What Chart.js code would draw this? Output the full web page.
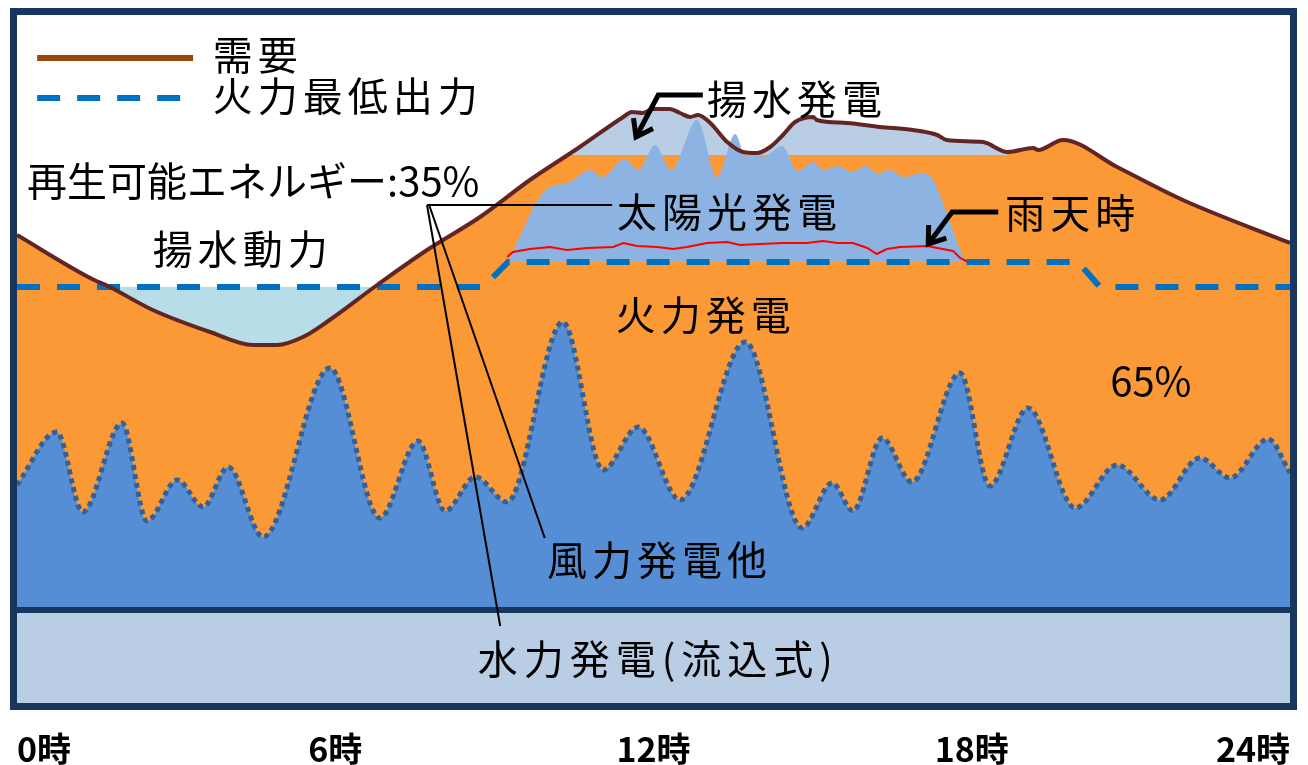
<!DOCTYPE html>
<html lang="ja">
<head>
<meta charset="UTF-8">
<title>電力需給イメージ</title>
<script src="https://cdn.jsdelivr.net/npm/chart.js@4.4.1/dist/chart.umd.min.js"></script>
<style>
    html, body { margin: 0; padding: 0; background: #ffffff; }
    #chartCanvas { display: block; }
</style>
</head>
<body>
<canvas id="chartCanvas" width="1308" height="765"></canvas>
<script>

// --- data (hour of day / output level) ---
var tickLabels = ['0時', '6時', '12時', '18時', '24時'];

var demandHours  = [0, 1.38, 1.75, 2.56, 3.64, 4.45, 4.90, 5.39, 5.84, 6.79, 7.73, 8.73, 9.67, 10.61, 11.43, 11.59, 11.80, 11.99, 12.31, 12.50, 12.69, 12.84, 13.07, 13.39, 13.69, 13.95, 14.20, 14.44, 14.67, 15.01, 15.08, 15.65, 16.27, 16.89, 17.35, 17.53, 18.21, 18.67, 19.16, 19.25, 19.72, 20.74, 21.98, 24];
var demandValues = [468, 425, 416, 393, 371, 358, 358, 366, 381, 418, 453, 486, 523, 556, 586, 591, 590, 594, 594, 590, 586, 588, 580, 561, 551, 550, 556, 568, 581, 586, 583, 580, 576, 573, 568, 563, 561, 551, 555, 553, 563, 536, 503, 460];

var minThermalHours  = [0, 8.79, 9.26, 20.0, 20.42, 24];
var minThermalValues = [416, 416, 441, 441, 416, 416];

var windHours  = [0, 0.75, 1.24, 1.98, 2.45, 3.02, 3.51, 3.98, 4.64, 5.90, 6.84, 7.56, 8.07, 8.64, 9.24, 10.29, 11.05, 11.71, 12.50, 13.73, 14.80, 15.37, 15.76, 16.31, 16.87, 17.78, 18.34, 19.06, 19.95, 20.74, 21.55, 22.30, 22.87, 23.59, 24];
var windValues = [218, 271, 191, 280, 182, 223, 196, 236, 166, 335, 185, 262, 192, 226, 201, 381, 233, 276, 203, 361, 175, 220, 192, 265, 221, 330, 217, 295, 195, 238, 203, 245, 225, 264, 230];

var hydroHours  = [0, 24];
var hydroValues = [93, 93];

var solarHours  = [9.26, 9.52, 9.80, 10.05, 10.39, 10.80, 11.03, 11.46, 11.71, 12.03, 12.33, 12.82, 13.20, 13.54, 13.74, 13.91, 14.06, 14.42, 14.72, 15.01, 15.20, 15.48, 15.74, 16.01, 16.23, 16.44, 16.74, 17.06, 17.25, 17.40, 17.59, 17.78, 17.89];
var solarValues = [441, 471, 501, 516, 520, 533, 526, 544, 533, 558, 533, 583, 526, 569, 546, 550, 546, 557, 532, 541, 533, 537, 531, 537, 529, 533, 526, 530, 525, 508, 481, 453, 441];

var rainHours  = [9.24, 9.35, 9.67, 10.05, 10.37, 10.75, 11.24, 11.43, 11.69, 12.07, 12.37, 12.63, 13.01, 13.39, 13.63, 14.01, 14.44, 14.89, 15.20, 15.46, 15.76, 16.03, 16.21, 16.40, 16.65, 17.16, 17.35, 17.65, 17.78, 17.97];
var rainValues = [446, 451, 454, 456, 453, 455, 456, 460, 457, 456, 454, 456, 460, 461, 458, 459, 460, 460, 462, 460, 460, 455, 449, 454, 456, 457, 455, 452, 445, 440];

// levels that bound the shaded bands
var pumpingLevel = 416;   // 火力最低出力 (夜間)
var solarBase    = 441;   // 火力最低出力 (昼間)
var storageLevel = 548;   // 揚水発電の下端
var storageUntil = 18.7;

function pts(hs, vs) {
    return hs.map(function (h, i) { return { x: h, y: vs[i] }; });
}

var demandPts  = pts(demandHours, demandValues);
var storagePts = demandPts.filter(function (p) { return p.x <= storageUntil; });

var JP = "'Noto Sans CJK JP', 'Noto Sans', sans-serif";

// labels, arrows and frame drawn over the areas
var overlay = {
    id: 'overlay',
    afterDatasetsDraw: function (chart) {
        var ctx = chart.ctx, a = chart.chartArea;
        var sx = chart.scales.x, sy = chart.scales.y;
        function P(h, v) { return [sx.getPixelForValue(h), sy.getPixelForValue(v)]; }

        ctx.save();
        ctx.lineCap = 'butt';
        ctx.lineJoin = 'miter';

        // leader lines for the renewable share
        ctx.strokeStyle = '#000000';
        ctx.lineWidth = 2;
        [[7.73, 498, 11.22, 498], [7.73, 498, 9.11, 77], [7.77, 498, 9.95, 165]].forEach(function (l) {
            var p0 = P(l[0], l[1]), p1 = P(l[2], l[3]);
            ctx.beginPath();
            ctx.moveTo(p0[0], p0[1]);
            ctx.lineTo(p1[0], p1[1]);
            ctx.stroke();
        });

        // arrows
        function arrow(list) {
            var p = list.map(function (q) { return P(q[0], q[1]); });
            ctx.lineWidth = 5;
            ctx.beginPath();
            ctx.moveTo(p[0][0], p[0][1]);
            for (var i = 1; i < p.length; i++) ctx.lineTo(p[i][0], p[i][1]);
            ctx.stroke();
            var tip = p[p.length - 1], prev = p[p.length - 2];
            var ang = Math.atan2(prev[1] - tip[1], prev[0] - tip[0]);
            var len = 19, spread = 0.62;
            ctx.beginPath();
            ctx.moveTo(tip[0] + len * Math.cos(ang + spread), tip[1] + len * Math.sin(ang + spread));
            ctx.lineTo(tip[0], tip[1]);
            ctx.lineTo(tip[0] + len * Math.cos(ang - spread), tip[1] + len * Math.sin(ang - spread));
            ctx.stroke();
        }
        arrow([[12.93, 608], [12.09, 608], [11.67, 566]]);
        arrow([[18.50, 491], [17.63, 491], [17.18, 459]]);

        // legend
        var l1 = P(0.38, 645), l1e = P(3.32, 645);
        ctx.strokeStyle = '#984807';
        ctx.lineWidth = 6;
        ctx.beginPath(); ctx.moveTo(l1[0], l1[1]); ctx.lineTo(l1e[0], l1e[1]); ctx.stroke();
        var l2 = P(0.38, 605), l2e = P(3.11, 605);
        ctx.strokeStyle = '#0070c0';
        ctx.setLineDash([23, 17]);
        ctx.beginPath(); ctx.moveTo(l2[0], l2[1]); ctx.lineTo(l2e[0], l2e[1]); ctx.stroke();
        ctx.setLineDash([]);

        // texts
        var notes = [
            { text: '需要',               h: 3.69,  v: 648, sp: 5 },
            { text: '火力最低出力',       h: 3.69,  v: 607, sp: 5 },
            { text: '再生可能エネルギー:35%', h: 0.19, v: 522, sp: 0 },
            { text: '揚水動力',           h: 2.56,  v: 454, sp: 5 },
            { text: '揚水発電',           h: 13.01, v: 604, sp: 5 },
            { text: '太陽光発電',         h: 11.31, v: 491, sp: 5 },
            { text: '雨天時',             h: 18.63, v: 490, sp: 5 },
            { text: '火力発電',           h: 11.29, v: 388, sp: 5 },
            { text: '65%',                h: 20.61, v: 322, sp: 0 },
            { text: '風力発電他',         h: 9.99,  v: 143, sp: 5 },
            { text: '水力発電(流込式)',   h: 12.09, v: 44,  sp: 6, align: 'center' }
        ];
        ctx.fillStyle = '#000000';
        ctx.textBaseline = 'middle';
        ctx.font = '40px ' + JP;
        notes.forEach(function (n) {
            var p = P(n.h, n.v);
            ctx.letterSpacing = n.sp + 'px';
            ctx.textAlign = n.align || 'left';
            ctx.fillText(n.text, p[0], p[1]);
        });
        ctx.letterSpacing = '0px';

        // frame
        ctx.strokeStyle = '#17375e';
        ctx.lineWidth = 7;
        ctx.strokeRect(a.left - 3.5, a.top - 3.5, a.right - a.left + 7, a.bottom - a.top + 7);
        ctx.restore();
    }
};

var chart = new Chart(document.getElementById('chartCanvas'), {
    type: 'line',
    data: {
        datasets: [
            {   // 需要
                data: demandPts, order: 1,
                borderColor: '#632523', borderWidth: 4, fill: false,
                cubicInterpolationMode: 'monotone'
            },
            {   // 火力最低出力
                data: pts(minThermalHours, minThermalValues), order: 2,
                borderColor: '#0070c0', borderWidth: 6, borderDash: [23, 17],
                borderCapStyle: 'butt', fill: false, tension: 0
            },
            {   // 雨天時の太陽光
                data: pts(rainHours, rainValues), order: 3,
                borderColor: '#ff0000', borderWidth: 2, fill: false, tension: 0
            },
            {   // 水力発電(流込式)
                data: pts(hydroHours, hydroValues), order: 4,
                borderColor: '#17375e', borderWidth: 6,
                backgroundColor: '#b9cde5', fill: 'origin'
            },
            {   // 風力発電他
                data: pts(windHours, windValues), order: 5,
                borderColor: '#366092', borderWidth: 5, borderDash: [5, 4],
                backgroundColor: '#558ed5', fill: 'origin',
                cubicInterpolationMode: 'monotone'
            },
            {   // 太陽光発電
                data: pts(solarHours, solarValues), order: 6,
                borderWidth: 0, backgroundColor: '#8db3e2',
                fill: { target: { value: solarBase } },
                cubicInterpolationMode: 'monotone'
            },
            {   // 揚水発電
                data: storagePts, order: 7, borderWidth: 0,
                fill: { target: { value: storageLevel }, above: '#b9cde5', below: 'rgba(0,0,0,0)' },
                cubicInterpolationMode: 'monotone'
            },
            {   // 揚水動力
                data: demandPts, order: 8, borderWidth: 0,
                fill: { target: { value: pumpingLevel }, above: 'rgba(0,0,0,0)', below: '#b7dde8' },
                cubicInterpolationMode: 'monotone'
            },
            {   // 火力発電
                data: demandPts, order: 9, borderWidth: 0,
                backgroundColor: '#fa9935', fill: 'origin',
                cubicInterpolationMode: 'monotone'
            }
        ]
    },
    options: {
        responsive: false,
        animation: false,
        events: [],
        elements: { point: { radius: 0 } },
        layout: { autoPadding: false, padding: { left: 17, right: 18, top: 15, bottom: 0 } },
        plugins: { legend: { display: false }, tooltip: { enabled: false } },
        scales: {
            x: {
                type: 'linear', min: 0, max: 24,
                grid: { display: false, drawTicks: false },
                border: { display: false },
                ticks: {
                    stepSize: 6, align: 'inner', padding: 26, color: '#000000',
                    font: { family: "'Liberation Sans Narrow', " + JP, size: 34, weight: 'bold' },
                    callback: function (v) { return tickLabels[v / 6]; }
                },
                afterFit: function (scale) {
                    scale.height = 62;
                    scale.paddingLeft = 0;
                    scale.paddingRight = 0;
                }
            },
            y: { display: false, min: 0, max: 688 }
        }
    },
    plugins: [overlay]
});

</script>
</body>
</html>
